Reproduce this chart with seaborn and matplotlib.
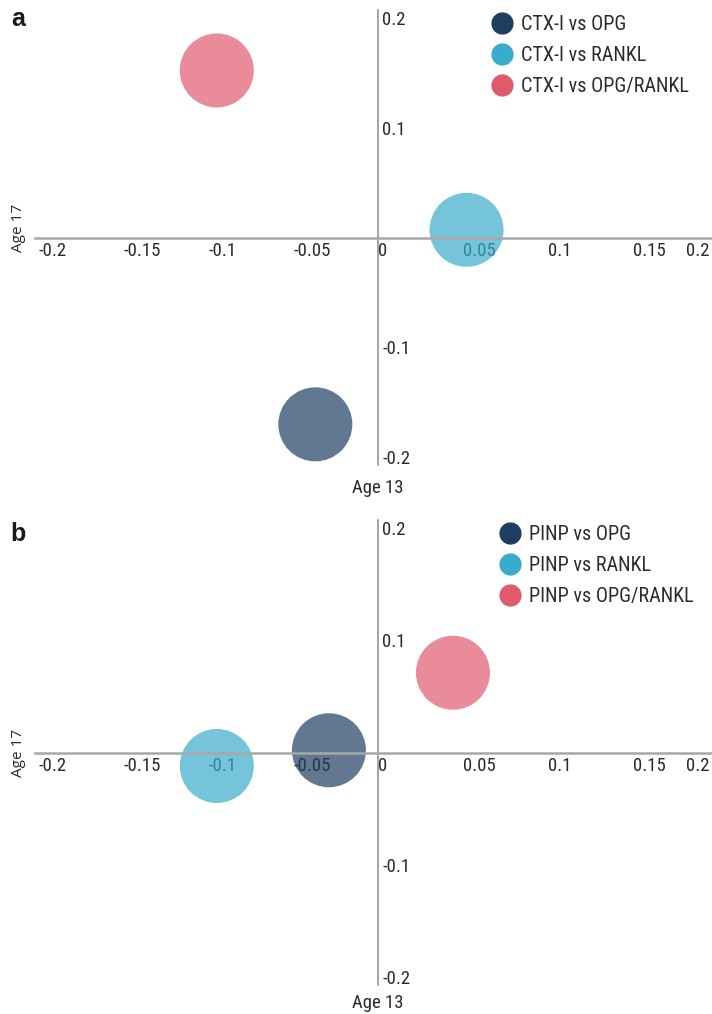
import numpy as np
import pandas as pd
import seaborn as sns
import matplotlib.pyplot as plt
from matplotlib import font_manager, transforms
from matplotlib.lines import Line2D

# panel a - CTX-I
pairs_a = ["CTX-I vs OPG", "CTX-I vs RANKL", "CTX-I vs OPG/RANKL"]
age13_a = [-0.037, 0.052, -0.095]
age17_a = [-0.170, 0.007, 0.152]

# panel b - PINP
pairs_b = ["PINP vs OPG", "PINP vs RANKL", "PINP vs OPG/RANKL"]
age13_b = [-0.029, -0.095, 0.044]
age17_b = [0.002, -0.012, 0.071]

colors = ["#1f3d61", "#3aaccb", "#e05a6c"]
xticks = [-0.2, -0.15, -0.1, -0.05, 0, 0.05, 0.1, 0.15, 0.2]
xticklabels = ["-0.2", "-0.15", "-0.1", "-0.05", "0", "0.05", "0.1", "0.15", "0.2"]
yticks = [-0.2, -0.1, 0.1, 0.2]
yticklabels = ["-0.2", "-0.1", "0.1", "0.2"]

sns.set_style("white")
names = {f.name for f in font_manager.fontManager.ttflist}
narrow = "DejaVu Sans"
for cand in ["Roboto Condensed", "Liberation Sans Narrow", "DejaVu Sans Condensed"]:
    if cand in names:
        narrow = cand
        break
plt.rcParams["font.family"] = [narrow, "DejaVu Sans"]
tick_size = 13.5 if narrow != "DejaVu Sans" else 11
leg_size = 14.5 if narrow != "DejaVu Sans" else 11.5

fig = plt.figure(figsize=(7.12, 10.14), dpi=100)


def panel(rect, pairs, x, y, ylim, leg_anchor):
    ax = fig.add_axes(rect)
    df = pd.DataFrame({"pair": pairs, "age13": x, "age17": y})
    sns.scatterplot(data=df, x="age13", y="age17", hue="pair", hue_order=pairs,
                    palette=colors, s=2840, alpha=0.7, linewidth=0, legend=False, ax=ax)
    ax.set_xlim(-0.202, 0.21)
    ax.set_ylim(*ylim)
    ax.set_xlabel("")
    ax.set_ylabel("")
    ax.spines["top"].set_visible(False)
    ax.spines["left"].set_visible(False)
    ax.spines["right"].set_position(("data", 0))
    ax.spines["bottom"].set_position(("data", 0))
    ax.spines["bottom"].set_color("#a8a8a8")
    ax.spines["bottom"].set_linewidth(1.8)
    ax.spines["right"].set_color("#8c8c8c")
    ax.spines["right"].set_linewidth(1.1)
    ax.yaxis.set_ticks_position("right")
    ax.set_xticks(xticks, xticklabels)
    ax.set_yticks(yticks, yticklabels)
    ax.tick_params(length=0, labelsize=tick_size, labelcolor="#2a2a2a")
    ax.tick_params(axis="x", pad=3)
    ax.tick_params(axis="y", pad=3)
    labs = ax.get_xticklabels()
    for lab in labs:
        lab.set_ha("left")
    # last label does not fit, pull it back inside the figure
    labs[-1].set_ha("right")
    labs[-1].set_transform(labs[-1].get_transform() +
                           transforms.ScaledTranslation(-0.09, 0, fig.dpi_scale_trans))
    handles = [Line2D([], [], marker="o", ls="", markersize=15,
                      markerfacecolor=c, markeredgecolor=c) for c in colors]
    ax.legend(handles, pairs, loc="upper left", bbox_to_anchor=leg_anchor,
              bbox_transform=fig.transFigure, frameon=False, fontsize=leg_size,
              handletextpad=0.4, labelspacing=0.6, borderpad=0, borderaxespad=0,
              handlelength=1.1, labelcolor="#2a2a2a")
    return ax


panel([35 / 712, 1 - 465 / 1014, 700 / 712, 455 / 1014], pairs_a, age13_a, age17_a,
      (-0.207, 0.207), (491 / 712, 1 - 15 / 1014))
panel([35 / 712, 1 - 985 / 1014, 700 / 712, 465 / 1014], pairs_b, age13_b, age17_b,
      (-0.207, 0.207), (499 / 712, 1 - 525 / 1014))

# labels
for ytop, y17, y13, letter in [(19, 228, 488, "a"), (534, 753, 1003, "b")]:
    fig.text(18 / 712, 1 - ytop / 1014, letter, fontsize=18, fontweight="bold",
             family="Liberation Sans", ha="center", va="center", color="#1a1a1a")
    fig.text(18 / 712, 1 - y17 / 1014, "Age 17", rotation=90, fontsize=11,
             family=["Open Sans", "DejaVu Sans"], ha="center", va="center", color="#2a2a2a")
    fig.text(378 / 712, 1 - y13 / 1014, "Age 13", fontsize=tick_size,
             ha="center", va="center", color="#2a2a2a")

plt.savefig("out.png", dpi=100)
